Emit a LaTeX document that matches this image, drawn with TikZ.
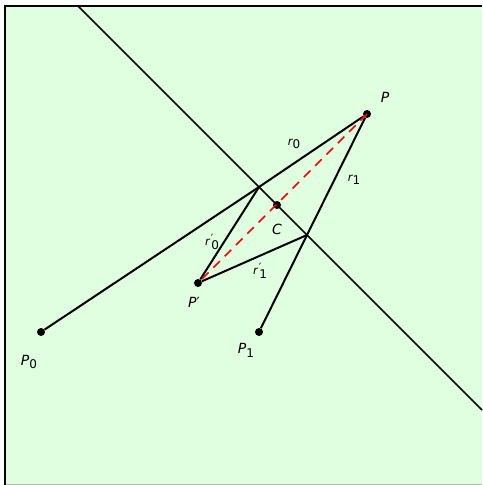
\documentclass[tikz,border=0pt]{standalone}
\usepackage{fontspec}
\setmainfont{DejaVu Sans}
\usetikzlibrary{positioning}

\definecolor{bggreen}{RGB}{224,255,224}
\newcommand{\lsub}[2]{{\itshape #1}\raisebox{-0.5ex}{\small #2}}
\newcommand{\lsubp}[2]{{\itshape #1}\kern0.8pt\raisebox{0.5ex}{′}\kern-1.5pt\raisebox{-0.6ex}{\small #2}}

\tikzset{
  dot/.style={circle, fill=black, inner sep=0pt, minimum size=6pt},
  lbl/.style={font=\fontsize{10.5}{12}\selectfont, inner sep=0pt},
  sublbl/.style={font=\fontsize{8.5}{10}\selectfont, inner sep=0pt},
  ray/.style={black, line width=1.5pt},
}

\begin{document}
\begin{tikzpicture}[x=0.75pt, y=-0.75pt]
    \useasboundingbox (0,0) rectangle (482,485);
    % background
    \fill[bggreen] (5,6) rectangle (482,485);
    \draw[gray!60, line width=0.75pt] (5,484) -- (482,484);
    \draw[black, line width=1.5pt] (5,485) -- (5,6) -- (482,6);

    % mirror line
    \coordinate (m1) at (78,6);
    \coordinate (m2) at (482,410);
    \draw[black, line width=1.1pt] (m1) -- (m2);

    % points
    \node[dot] (P) at (367,114) {};
    \node[dot] (Pp) at (198,283) {};
    \node[dot] (P0) at (41,332) {};
    \node[dot] (P1) at (259,332) {};
    \node[dot] (C) at (277,205) {};
    \coordinate (X0) at (259,187);
    \coordinate (X1) at (307,235);

    % rays
    \draw[ray] (P0) -- (X0) -- (P);
    \draw[ray] (P1) -- (X1) -- (P);
    \draw[ray] (Pp) -- (X0);
    \draw[ray] (Pp) -- (X1);
    \draw[red, dashed, line width=1.1pt, dash pattern=on 7pt off 5pt] (P.center) -- (Pp.center);

    % labels
    \node[lbl] (lP) at (385,97) {\itshape P};
    \node[lbl] (lPp) at (194,302) {{\itshape P}′};
    \node[lbl] (lP0) at (29,362) {\lsub{P}{0}};
    \node[lbl] (lP1) at (246,350) {\lsub{P}{1}};
    \node[lbl] (lC) at (277,229) {\itshape C};
    \node[sublbl] (lr0) at (294,144) {\lsub{r}{0}};
    \node[sublbl] (lr1) at (354,180) {\lsub{r}{1}};
    \node[sublbl] (lr0p) at (212,242) {\lsubp{r}{0}};
    \node[sublbl] (lr1p) at (260,271) {\lsubp{r}{1}};
\end{tikzpicture}
\end{document}
